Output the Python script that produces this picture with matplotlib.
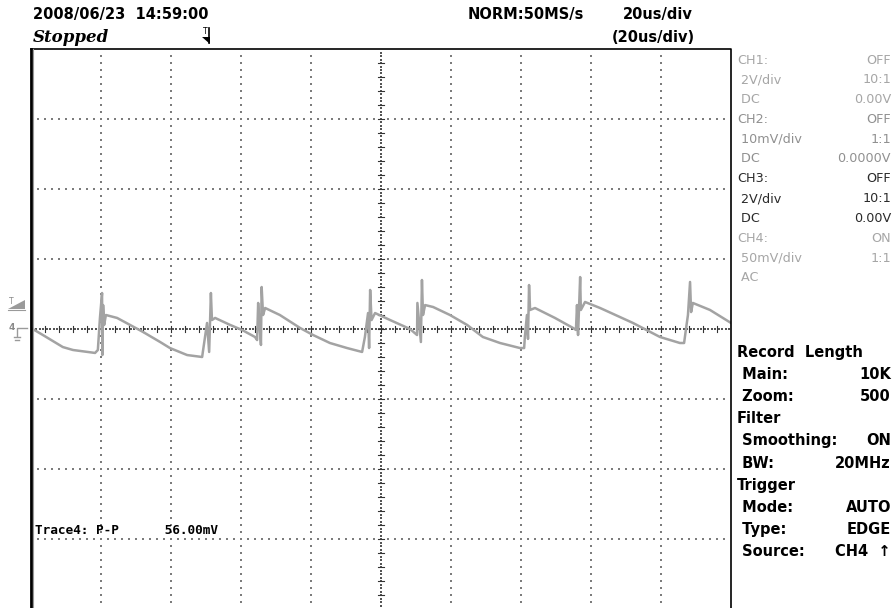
import numpy as np
import matplotlib
matplotlib.use('Agg')
import matplotlib.pyplot as plt

# CH4 trace (20us/div, 50mV/div, AC)
t_us = [0.0, 3.4, 9.1, 12.0, 18.3, 19.1, 19.7, 20.3, 20.4, 20.6, 20.9, 21.4,
        24.6, 28.3, 32.0, 36.9, 39.7, 44.6, 48.9, 49.1, 50.3, 50.9, 51.4, 51.7, 52.6,
        56.9, 60.3, 64.0, 64.6, 64.9, 65.2, 65.7, 65.9, 66.3, 66.9,
        71.1, 76.9, 80.6, 85.4, 90.3, 94.6, 95.4, 96.3, 96.6, 96.9, 97.3, 98.3,
        102.6, 108.3, 110.3, 110.4, 111.4, 111.7, 112.0, 112.6, 114.9,
        119.7, 124.6, 129.1, 134.0, 139.7, 140.9, 141.1, 141.7, 142.0, 142.3, 142.6, 144.0,
        149.7, 154.9, 155.7, 156.0, 156.3, 156.9, 157.1, 158.3,
        162.6, 172.0, 179.7, 185.4, 186.6, 187.1, 187.7, 188.3, 188.6, 189.1,
        194.0, 200.0]
v_mv = [0.7, -4.3, -12.9, -15.0, -17.1, -15.0, 7.9, 25.7, -18.6, 17.1, 2.9, 10.0,
        7.9, 2.9, -2.1, -9.3, -13.6, -18.6, -20.0, -16.4, 4.3, -16.4, 25.7, 6.4, 7.9,
        2.9, -0.7, -5.7, -7.9, 18.6, 6.4, -11.4, 30.0, 10.0, 15.0,
        10.0, 0.7, -4.3, -10.0, -13.6, -16.4, -5.7, 11.4, -13.6, 27.9, 6.4, 11.4,
        6.4, 0.0, -4.3, 18.6, -9.3, 35.0, 10.0, 17.1, 15.7,
        10.0, 2.9, -5.7, -10.0, -13.6, -13.6, -5.7, 10.0, -7.1, 31.4, 13.6, 15.0,
        7.9, 0.7, -0.7, 17.1, -4.3, 37.1, 13.6, 19.3,
        15.0, 4.3, -5.7, -10.0, -10.0, -0.7, 10.0, 33.6, 12.1, 18.6,
        13.6, 4.3]

# screen settings
time_div = 20      # us/div
volt_div = 50      # mV/div
n_hdiv = 10
n_vdiv = 8

header_date = '2008/06/23  14:59:00'
header_state = 'Stopped'
header_rate = 'NORM:50MS/s'
header_tdiv = '20us/div'
header_zdiv = '(20us/div)'
measure_text = 'Trace4: P-P      56.00mV'

ch_rows = [('CH1:', 'OFF', 0), (' 2V/div', '10:1', 0), (' DC', '0.00V', 0),
           ('CH2:', 'OFF', 1), (' 10mV/div', '1:1', 1), (' DC', '0.0000V', 1),
           ('CH3:', 'OFF', 2), (' 2V/div', '10:1', 2), (' DC', '0.00V', 2),
           ('CH4:', 'ON', 3), (' 50mV/div', '1:1', 3), (' AC', '', 3)]
ch_colors = ['#a6a6a6', '#909090', '#2a2a2a', '#a6a6a6']

info_rows = [('Record  Length', ''), (' Main:', '10K'), (' Zoom:', '500'),
             ('Filter', ''), (' Smoothing:', 'ON'), (' BW:', '20MHz'),
             ('Trigger', ''), (' Mode:', 'AUTO'), (' Type:', 'EDGE'),
             (' Source:', 'CH4  \u2191')]

W, H = 895, 608
fig = plt.figure(figsize=(W / 100, H / 100), dpi=100)
fig.patch.set_facecolor('white')

# graticule area in pixels
gl, gt, gw, gh = 31, 49, 700, 560
ax = fig.add_axes([gl / W, (H - gt - gh) / H, gw / W, gh / H])
xmax = time_div * n_hdiv
ymax = volt_div * n_vdiv / 2
ax.set_xlim(0, xmax)
ax.set_ylim(-ymax, ymax)
ax.axis('off')

dot_c = '#7c7c7c'
# dotted division lines
xd = np.arange(2, xmax, 2)
for v in np.arange(-ymax + volt_div, ymax, volt_div):
    if v == 0:
        continue
    ax.scatter(xd, np.full_like(xd, v, dtype=float), s=0.7, marker='s', c=dot_c, linewidths=0)
yd = np.arange(-ymax + 5, ymax, 5)
for t in np.arange(time_div, xmax, time_div):
    if t == xmax / 2:
        continue
    ax.scatter(np.full_like(yd, t, dtype=float), yd, s=0.7, marker='s', c=dot_c, linewidths=0)

# center cross with minor ticks
xc = np.arange(0.5, xmax, 1.0)
ax.scatter(xc, np.zeros_like(xc), s=0.8, marker='s', c='#555555', linewidths=0)
yc = np.arange(-ymax + 2.5, ymax, 2.5)
ax.scatter(np.full_like(yc, xmax / 2), yc, s=0.8, marker='s', c='#555555', linewidths=0)
tick_h = 3 * (2 * ymax) / gh
tick_w = 3 * xmax / gw
for t in np.arange(4, xmax, 4):
    ax.plot([t, t], [-tick_h, tick_h], color='#333333', lw=0.8)
for v in np.arange(-ymax + 10, ymax, 10):
    ax.plot([xmax / 2 - tick_w, xmax / 2 + tick_w], [v, v], color='#333333', lw=0.8)

# the trace
ax.plot(t_us, v_mv, color='#a3a3a3', lw=1.8, solid_joinstyle='round', zorder=5)

# overlay in pixel coordinates for the screen text
ov = fig.add_axes([0, 0, 1, 1], facecolor='none')
ov.set_xlim(0, W)
ov.set_ylim(H, 0)
ov.axis('off')

# border
ov.plot([gl, gl + gw, gl + gw], [gt, gt, gt + gh], color='black', lw=1.2)
ov.plot([gl, gl], [gt, gt + gh], color='black', lw=2.0)
ov.plot([gl + 1.8, gl + 1.8], [gt, gt + gh], color='#999999', lw=0.8)

# header
hdr = dict(fontsize=10.5, family='DejaVu Sans', weight='bold', va='center', ha='left')
ov.text(33, 15, header_date, **hdr)
ov.text(33, 38, header_state, fontsize=12, family='DejaVu Serif', style='italic',
        weight='bold', va='center', ha='left')
ov.text(468, 15, header_rate, **hdr)
ov.text(623, 15, header_tdiv, **hdr)
ov.text(612, 38, header_zdiv, **hdr)

# trigger position marker
ov.text(205, 31, 'T', fontsize=5.5, family='DejaVu Sans', va='center', ha='center')
ov.plot([209.5, 209.5], [28, 43], color='black', lw=1.2)
ov.fill([202, 210, 210], [37, 37, 44], color='black', lw=0)

# trigger level and channel ground markers at the left
ov.text(11, 302, 'T', fontsize=5.5, family='DejaVu Sans', va='center', ha='center', color='#8a8a8a')
ov.fill([8, 25, 25], [309, 309, 300], color='#9a9a9a', lw=0)
ov.plot([8, 25], [309.5, 309.5], color='#9a9a9a', lw=0.8)
ov.text(12, 328, '4', fontsize=6.5, family='DejaVu Sans', weight='bold', va='center',
        ha='center', color='#8a8a8a')
ov.plot([17, 17, 27], [336, 328, 328], color='#9a9a9a', lw=1.0)
ov.plot([14, 20], [337, 337], color='#9a9a9a', lw=1.0)
ov.plot([15, 19], [339.5, 339.5], color='#9a9a9a', lw=1.0)

# measurement
ov.text(35, 531, measure_text, fontsize=9.2, family='DejaVu Sans Mono', weight='bold',
        va='center', ha='left')

# channel panel
for i, (lab, val, c) in enumerate(ch_rows):
    y = 60 + i * 19.8
    ov.text(737, y, lab, fontsize=9.2, family='DejaVu Sans', color=ch_colors[c],
            va='center', ha='left')
    if val:
        ov.text(891, y, val, fontsize=9.2, family='DejaVu Sans', color=ch_colors[c],
                va='center', ha='right')

# record / filter / trigger panel
for i, (lab, val) in enumerate(info_rows):
    y = 352 + i * 22.2
    ov.text(737, y, lab, fontsize=10.5, family='DejaVu Sans', weight='bold',
            va='center', ha='left')
    if val:
        ov.text(891, y, val, fontsize=10.5, family='DejaVu Sans', weight='bold',
                va='center', ha='right')

fig.savefig('out.png', dpi=100)
